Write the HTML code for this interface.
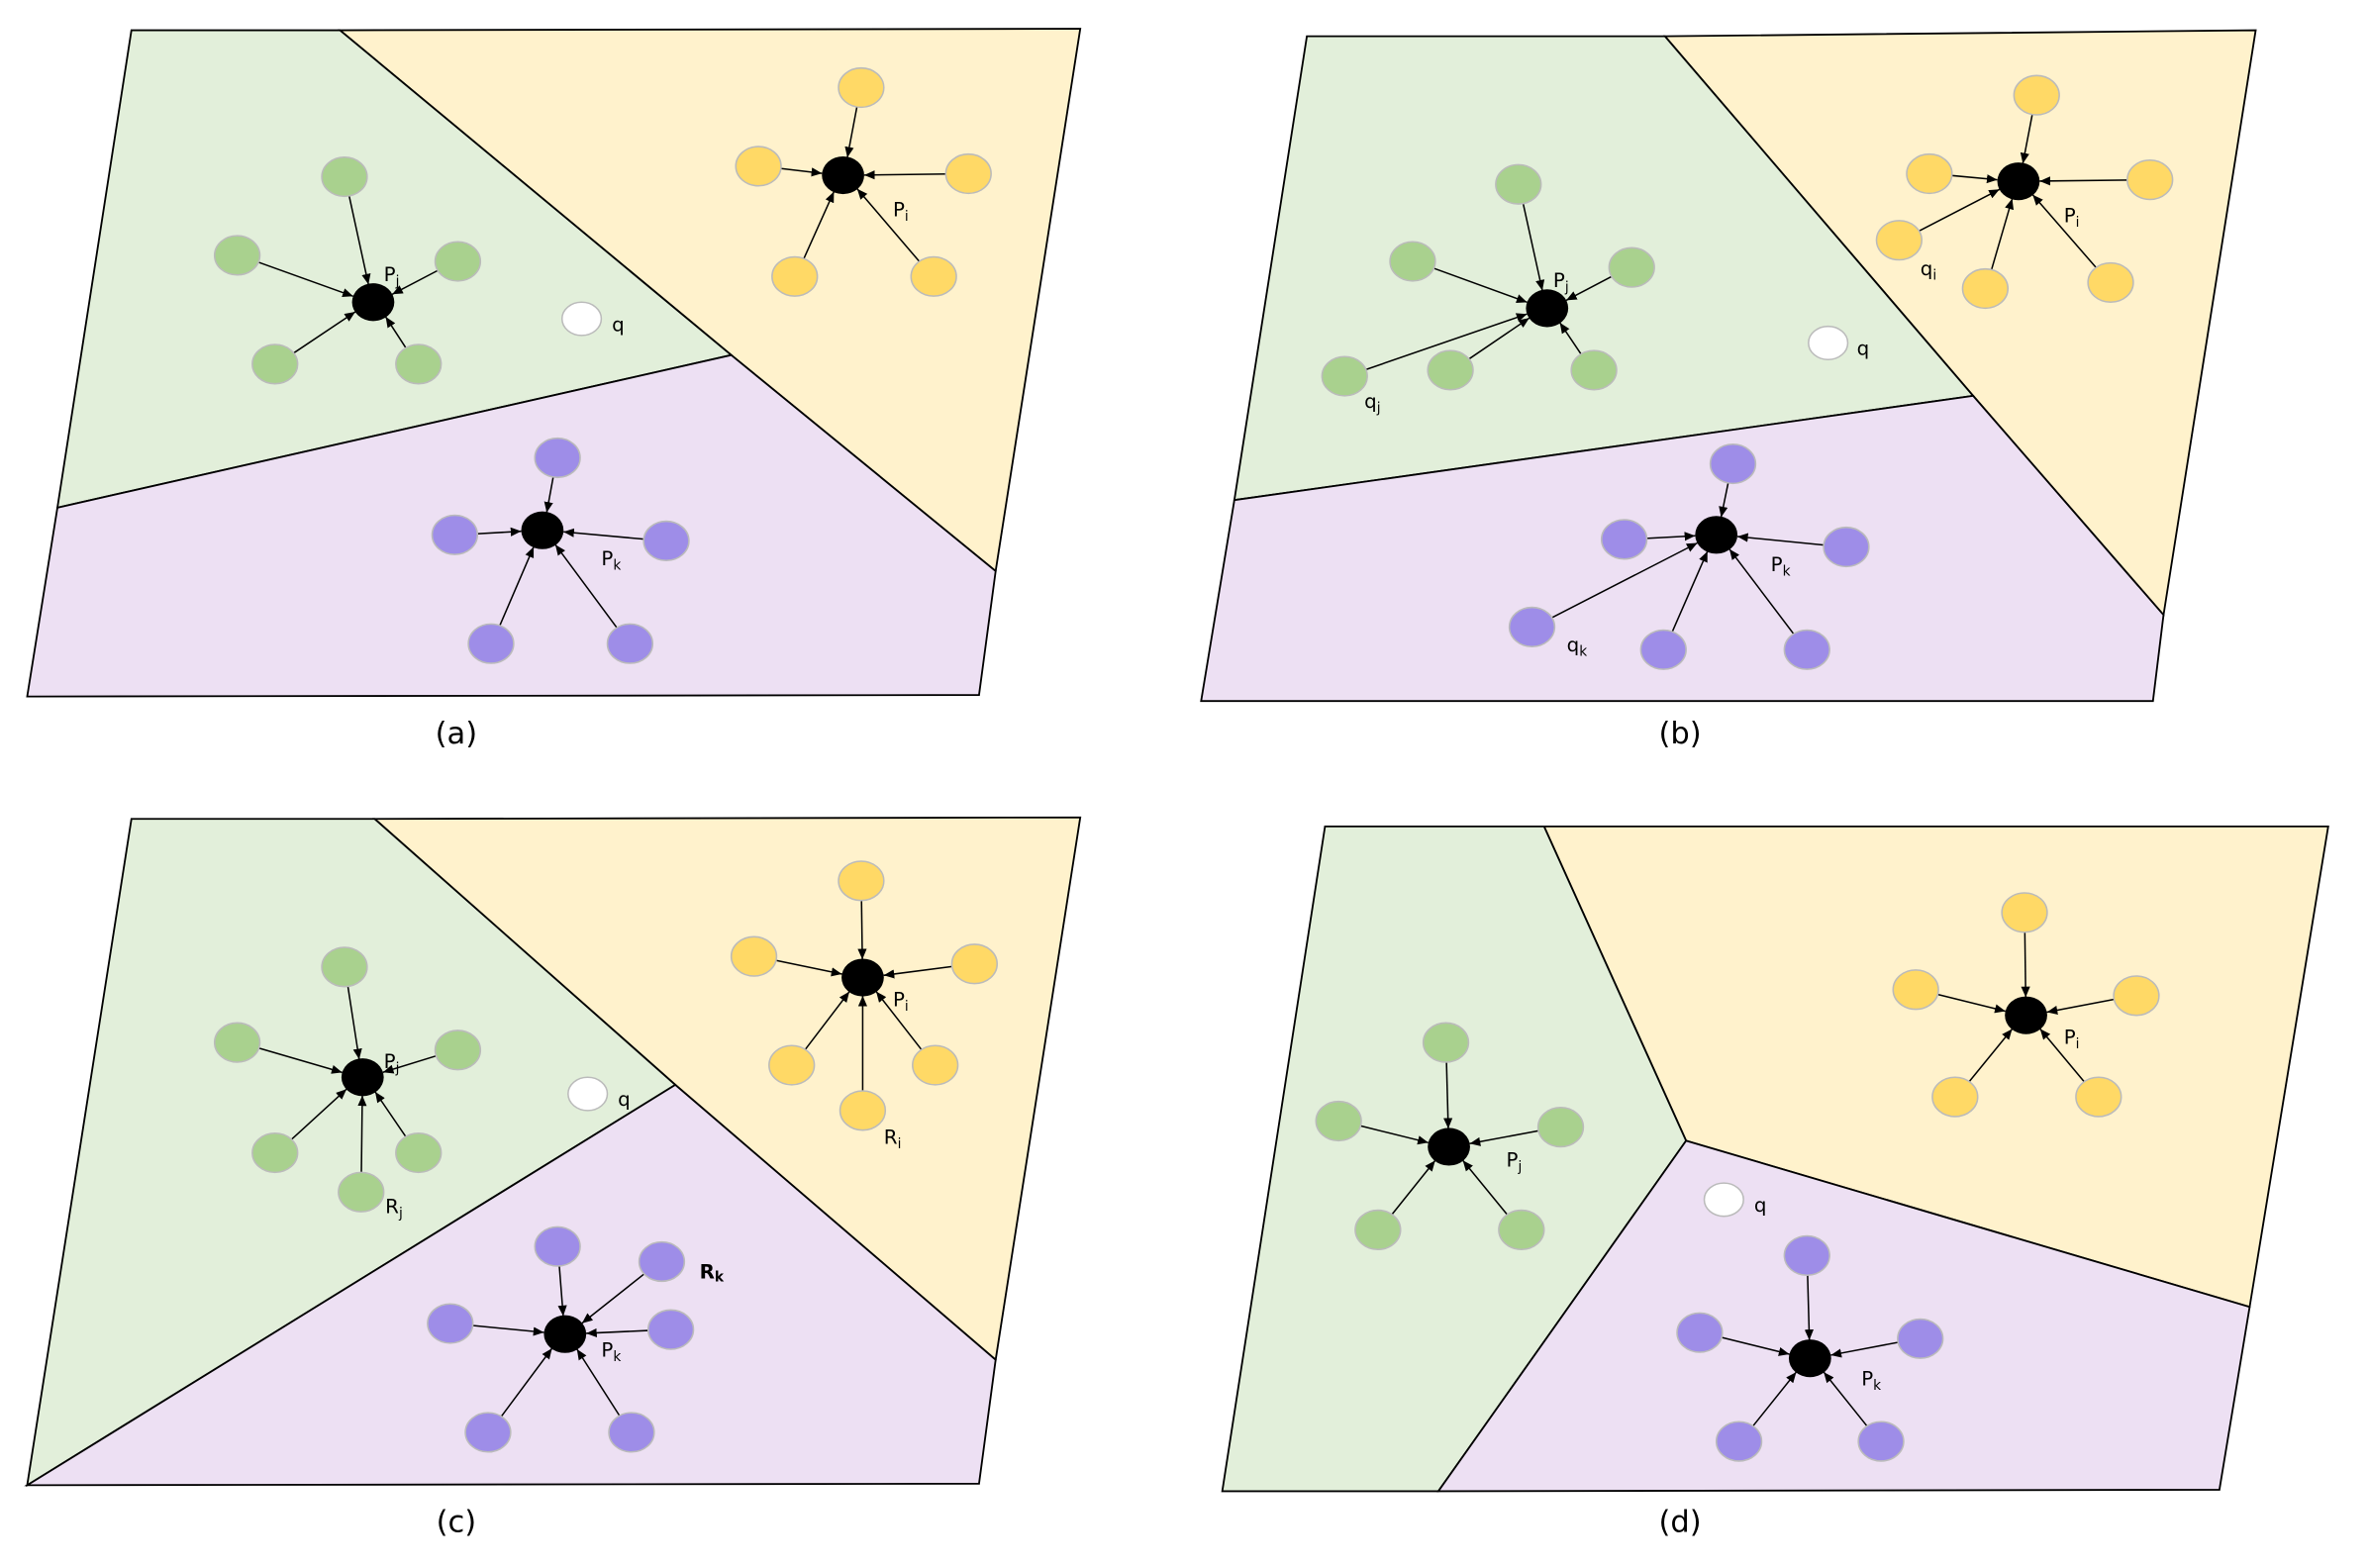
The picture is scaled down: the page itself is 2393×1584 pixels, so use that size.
<!DOCTYPE html>
<html><head><meta charset="utf-8"><style>
html,body{margin:0;padding:0;background:#fff;}
svg{display:block;}
text{font-family:"DejaVu Sans","Liberation Sans",sans-serif;fill:#000;}
</style></head><body>
<svg id="s" width="2393" height="1584" viewBox="0 0 1568 1037.8" preserveAspectRatio="none" xmlns="http://www.w3.org/2000/svg">
<defs><marker id="ah" markerWidth="8" markerHeight="8" refX="7" refY="4" orient="auto" markerUnits="userSpaceOnUse"><path d="M0,1 L7,4 L0,7 Z" fill="#000"/></marker></defs>
<g stroke="#000" stroke-width="1.2">
<polygon points="225,20 715,19 659,378 484,235" fill="#fff2cc"/>
<polygon points="87,20 225,20 484,235 38,336" fill="#e2efda"/>
<polygon points="38,336 484,235 659,378 648,460 18,461" fill="#ede0f3"/>
<polygon points="1102,24 1493,20 1432,407 1306,262" fill="#fff2cc"/>
<polygon points="865,24 1102,24 1306,262 817,331" fill="#e2efda"/>
<polygon points="817,331 1306,262 1432,407 1425,464 795,464" fill="#ede0f3"/>
<polygon points="248,542 715,541 659,900 447,718" fill="#fff2cc"/>
<polygon points="87,542 248,542 447,718 18,983" fill="#e2efda"/>
<polygon points="18,983 447,718 659,900 648,982" fill="#ede0f3"/>
<polygon points="1022,547 1541,547 1489,865 1116,755" fill="#fff2cc"/>
<polygon points="877,547 1022,547 1116,755 952,987 809,987" fill="#e2efda"/>
<polygon points="1116,755 1489,865 1469,986 952,987" fill="#ede0f3"/>
</g>
<g id="g"></g>
<g font-size="13">
<text x="254" y="186">P<tspan font-size="9" dy="3">j</tspan></text>
<text x="405" y="219">q</text>
<text x="591" y="143">P<tspan font-size="9" dy="3">i</tspan></text>
<text x="398" y="374">P<tspan font-size="9" dy="3">k</tspan></text>
<text x="1028" y="190">P<tspan font-size="9" dy="3">j</tspan></text>
<text x="903" y="270">q<tspan font-size="9" dy="3">j</tspan></text>
<text x="1229" y="235">q</text>
<text x="1366" y="147">P<tspan font-size="9" dy="3">i</tspan></text>
<text x="1271" y="182">q<tspan font-size="9" dy="3">i</tspan></text>
<text x="1172" y="378">P<tspan font-size="9" dy="3">k</tspan></text>
<text x="1037" y="431">q<tspan font-size="9" dy="3">k</tspan></text>
<text x="254" y="707">P<tspan font-size="9" dy="3">j</tspan></text>
<text x="255" y="803">R<tspan font-size="9" dy="3">j</tspan></text>
<text x="409" y="732">q</text>
<text x="591" y="666">P<tspan font-size="9" dy="3">i</tspan></text>
<text x="585" y="757">R<tspan font-size="9" dy="3">i</tspan></text>
<text x="398" y="898">P<tspan font-size="9" dy="3">k</tspan></text>
<text x="463" y="846" font-weight="bold">R<tspan font-size="9" dy="2">k</tspan></text>
<text x="997" y="772">P<tspan font-size="9" dy="3">j</tspan></text>
<text x="1161" y="802">q</text>
<text x="1366" y="691">P<tspan font-size="9" dy="3">i</tspan></text>
<text x="1232" y="917">P<tspan font-size="9" dy="3">k</tspan></text>
</g>
<g font-size="20" text-anchor="middle">
<text x="302" y="492">(a)</text>
<text x="1112" y="492">(b)</text>
<text x="302" y="1014">(c)</text>
<text x="1112" y="1014">(d)</text>
</g>
</svg>
<script>
var G=[ ['#a9d18e',[247,200],[[228,117],[157,169],[303,173],[182,241],[277,241]]],
['#ffd966',[558,116],[[570,58],[502,110],[641,115],[526,183],[618,183]]],
['#9e8de8',[359,351],[[369,303],[301,354],[441,358],[325,426],[417,426]]],
['#a9d18e',[1024,204],[[1005,122],[935,173],[1080,177],[890,249],[960,245],[1055,245]]],
['#ffd966',[1336,120],[[1348,63],[1277,115],[1423,119],[1257,159],[1314,191],[1397,187]]],
['#9e8de8',[1136,354],[[1147,307],[1075,357],[1222,362],[1014,415],[1101,430],[1196,430]]],
['#a9d18e',[240,713],[[228,640],[157,690],[303,695],[182,763],[277,763],[239,789]]],
['#ffd966',[571,647],[[570,583],[499,633],[645,638],[524,705],[619,705],[571,735]]],
['#9e8de8',[374,883],[[369,825],[298,876],[438,835],[444,880],[323,948],[418,948]]],
['#a9d18e',[959,759],[[957,690],[886,742],[1033,746],[912,814],[1007,814]]],
['#ffd966',[1341,672],[[1340,604],[1268,655],[1414,659],[1294,726],[1389,726]]],
['#9e8de8',[1198,899],[[1196,831],[1125,882],[1271,886],[1151,954],[1245,954]]]];
var Q=[[385,211],[1210,227],[389,724],[1141,794]];
var h='';
G.forEach(function(g){var c=g[1];g[2].forEach(function(p){
 var dx=c[0]-p[0],dy=c[1]-p[1],L=Math.sqrt(dx*dx+dy*dy),ux=dx/L,uy=dy/L;
 h+='<line x1="'+(p[0]+ux*13)+'" y1="'+(p[1]+uy*12)+'" x2="'+(c[0]-ux*14)+'" y2="'+(c[1]-uy*12)+'" stroke="#000" stroke-width="1" marker-end="url(#ah)"/>';
 h+='<ellipse cx="'+p[0]+'" cy="'+p[1]+'" rx="15" ry="13" fill="'+g[0]+'" stroke="#bbb" stroke-width="1"/>';});
 h+='<ellipse cx="'+c[0]+'" cy="'+c[1]+'" rx="14" ry="12.5" fill="#000"/>';});
Q.forEach(function(q){h+='<ellipse cx="'+q[0]+'" cy="'+q[1]+'" rx="13" ry="11" fill="#fff" stroke="#bbb" stroke-width="1"/>';});
document.getElementById('g').innerHTML=h;
</script>
</body></html>
